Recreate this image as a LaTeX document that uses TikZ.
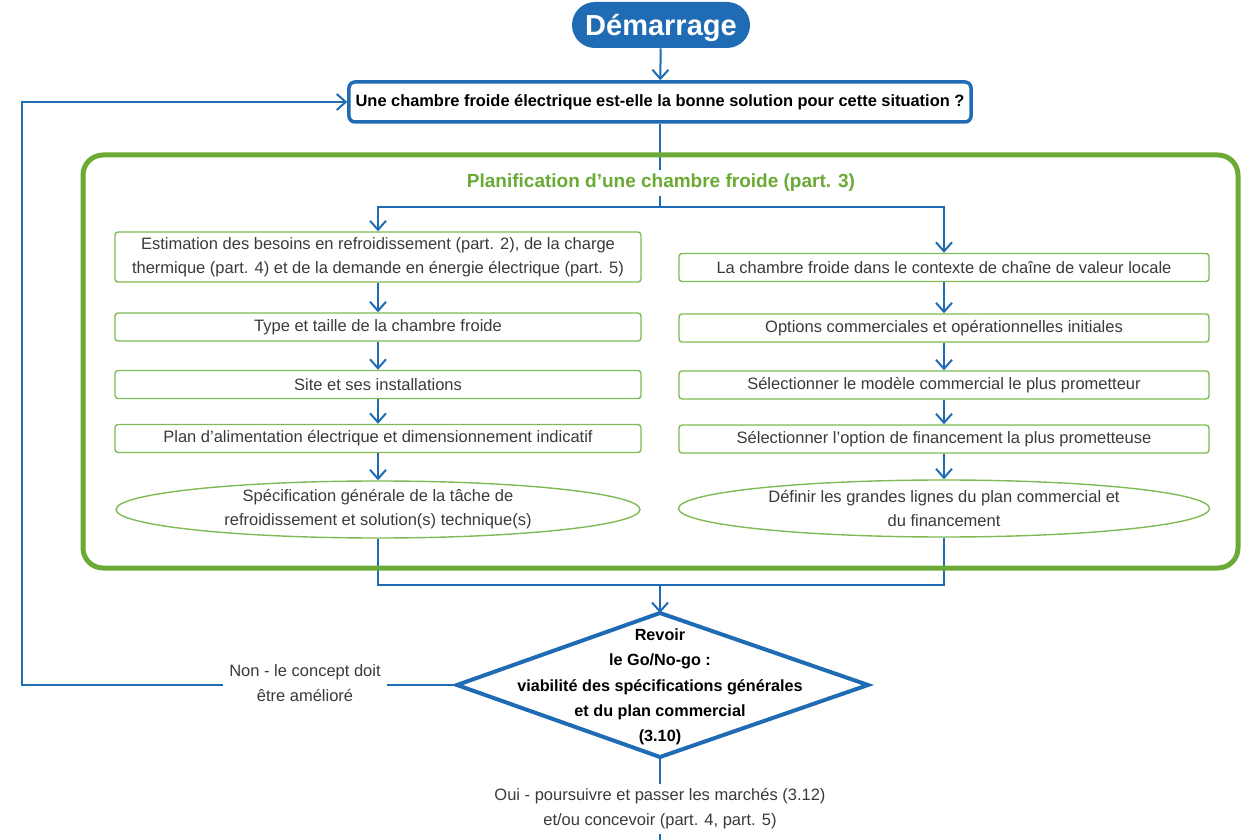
\documentclass[tikz,border=0pt]{standalone}
\usepackage{fontspec}
\setmainfont{Liberation Sans}
\usetikzlibrary{arrows.meta,shapes.geometric}
\definecolor{fblue}{HTML}{1F6CB4}
\definecolor{fgreen}{HTML}{6BAA35}
\definecolor{bgreen}{HTML}{80BA55}
\definecolor{tgrey}{HTML}{3A3A3A}
\begin{document}
\begin{tikzpicture}[x=0.5pt,y=-0.5pt,
  flow/.style={draw=fblue, line width=1pt},
  arr/.style={flow, -{Straight Barb[length=4.5pt,width=8pt]}},
  txt/.style={text=tgrey, font=\fontsize{8.25}{12}\selectfont, align=center},
  stepbox/.style={txt, draw=bgreen, line width=0.7pt, rounded corners=1.5pt, inner sep=1pt},
  lbox/.style={stepbox, minimum width=263pt, minimum height=14pt},
  rbox/.style={stepbox, minimum width=265pt, minimum height=14pt},
  goal/.style={ellipse, draw=bgreen, line width=0.7pt, minimum height=28.5pt, inner sep=0pt},
  startnode/.style={fill=fblue, text=white, rounded corners=11.5pt, minimum width=89pt, minimum height=23pt,
    text depth=0pt, font=\fontsize{14.5}{16}\selectfont\bfseries},
  question/.style={draw=fblue, line width=1.75pt, rounded corners=3pt, minimum width=309.5pt, minimum height=20pt,
    font=\fontsize{8.2}{10}\selectfont\bfseries},
  answer/.style={txt, fill=white, font=\fontsize{8.25}{12.5}\selectfont, inner xsep=3pt, inner ysep=2pt}
]
\useasboundingbox (0,0) rectangle (1250,840);

% start and entry question
\node[startnode] (start) at (661,25) {Démarrage};
\node[question] (q) at (660,102) {Une chambre froide électrique est-elle la bonne solution pour cette situation ?};

% technical planning column
\node[lbox, minimum height=25pt] (L1) at (378,257) {Estimation des besoins en refroidissement (part. 2), de la charge\\thermique (part. 4) et de la demande en énergie électrique (part. 5)};
\node[lbox] (L2) at (378,327) {Type et taille de la chambre froide};
\node[lbox] (L3) at (378,384.5) {Site et ses installations};
\node[lbox] (L4) at (378,438.5) {Plan d’alimentation électrique et dimensionnement indicatif};
\node[goal, minimum width=262pt] (L5) at (378,509.5) {};
\node[txt] (L5t) at (L5.center) {Spécification générale de la tâche de\\refroidissement et solution(s) technique(s)};

% business planning column
\node[rbox] (R1) at (944,267.5) {La chambre froide dans le contexte de chaîne de valeur locale};
\node[rbox] (R2) at (944,328) {Options commerciales et opérationnelles initiales};
\node[rbox] (R3) at (944,385) {Sélectionner le modèle commercial le plus prometteur};
\node[rbox] (R4) at (944,439) {Sélectionner l’option de financement la plus prometteuse};
\node[goal, minimum width=265.5pt] (R5) at (944,508.5) {};
\node[txt] (R5t) at (R5.center) {Définir les grandes lignes du plan commercial et\\du financement};

% go / no-go decision
\coordinate (dT) at (660,613);
\coordinate (dR) at (868,685);
\coordinate (dB) at (660,757);
\coordinate (dL) at (457,685);
\draw[fblue, line width=2pt] (dT) -- (dR) -- (dB) -- (dL) -- cycle;
\node[align=center, font=\fontsize{8.1}{12.6}\selectfont\bfseries] (dec) at (660,687)
  {Revoir\\le Go/No-go :\\viabilité des spécifications générales\\et du plan commercial\\(3.10)};

\node[answer] (non) at (305,683) {Non - le concept doit\\être amélioré};
\node[answer] (oui) at (660,809) {Oui - poursuivre et passer les marchés (3.12)\\et/ou concevoir (part. 4, part. 5)};

\coordinate (split) at (660,207);
\coordinate (merge) at (660,585);
\coordinate (loopc) at (22,685);
\coordinate (exit) at (660,840);

% connectors
\draw[arr] (start) -- (q);
\draw[flow] (q.south) -- (split);
\draw[arr] (split) -| (L1.north);
\draw[arr] (split) -| (R1.north);
\draw[arr] (L1) -- (L2);
\draw[arr] (L2) -- (L3);
\draw[arr] (L3) -- (L4);
\draw[arr] (L4) -- (L5);
\draw[arr] (R1) -- (R2);
\draw[arr] (R2) -- (R3);
\draw[arr] (R3) -- (R4);
\draw[arr] (R4) -- (R5);
\draw[flow] (L5.south) |- (merge);
\draw[flow] (R5.south) |- (merge);
\draw[arr] (merge) -- (dT);
\draw[flow] (dL) -- (dL -| non.east);
\draw[arr] (dL -| non.west) -- (loopc) |- (q.west);
\draw[flow] (dB) -- (oui.north);
\draw[flow] (oui.south) -- (exit);

% planning frame and its title
\draw[fgreen, line width=2.5pt, rounded corners=10pt] (83,155) rectangle (1238,568);
\node[fill=white, text=fgreen, font=\fontsize{9.5}{11}\selectfont\bfseries, inner sep=2pt] (title) at (661,183)
  {Planification d’une chambre froide (part. 3)};
\end{tikzpicture}
\end{document}
